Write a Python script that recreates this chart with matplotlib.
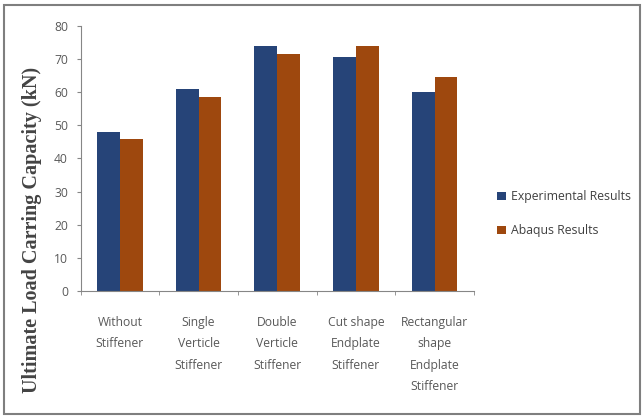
import matplotlib
matplotlib.use('Agg')
import matplotlib.pyplot as plt
from matplotlib.patches import Rectangle
import numpy as np

categories = ['Without\nStiffener', 'Single\nVerticle\nStiffener', 'Double\nVerticle\nStiffener',
              'Cut shape\nEndplate\nStiffener', 'Rectangular\nshape\nEndplate\nStiffener']
experimental = [48, 61, 74, 70.5, 60]
abaqus = [46, 58.5, 71.5, 74, 64.5]
series_names = ['Experimental Results', 'Abaqus Results']
y_ticks = [0, 10, 20, 30, 40, 50, 60, 70, 80]

blue = '#264478'
orange = '#9E480E'
grey = '#595959'

plt.rcParams['font.family'] = ['Open Sans', 'DejaVu Sans']

fig = plt.figure(figsize=(6.44, 4.19), dpi=100)
ax = fig.add_axes([0.125, 0.3055, 0.611, 0.6325])

x = np.arange(len(categories))
w = 0.29
b1 = ax.bar(x - w / 2, experimental, width=w, color=blue, label=series_names[0])
b2 = ax.bar(x + w / 2, abaqus, width=w, color=orange, label=series_names[1])

ax.set_xlim(-0.5, len(categories) - 0.5)
ax.set_ylim(0, 80)
ax.set_yticks(y_ticks)
ax.set_xticks(x)
ax.set_xticklabels(categories, linespacing=1.85, va='top')
ax.set_xticks(np.arange(len(categories) + 1) - 0.5, minor=True)
ax.tick_params(axis='x', which='major', length=0, pad=18, labelsize=8.7, labelcolor=grey)
ax.tick_params(axis='x', which='minor', length=3, color='#868686')
ax.tick_params(axis='y', length=3, color='#868686', labelsize=8.7, labelcolor=grey, pad=6)

for s in ['top', 'right']:
    ax.spines[s].set_visible(False)
for s in ['left', 'bottom']:
    ax.spines[s].set_color('#868686')
    ax.spines[s].set_linewidth(0.8)

ax.set_ylabel('Ultimate Load Carring Capacity (kN)', family='Liberation Serif',
              fontsize=14.5, fontweight='bold', color='#444444')
ax.yaxis.set_label_coords(-0.097, 0.23)

fig.legend(handles=[b1, b2], loc='center left', bbox_to_anchor=(0.755, 0.49),
           frameon=False, fontsize=8.8, labelcolor='#404040',
           handlelength=0.7, handleheight=0.7, handletextpad=0.4, labelspacing=1.7)

# outer grey frame of the chart
fig.patches.append(Rectangle((0.006, 0.012), 0.988, 0.976, transform=fig.transFigure,
                             fill=False, edgecolor='#7f7f7f', linewidth=1.5))

fig.savefig('out.png', dpi=100)
